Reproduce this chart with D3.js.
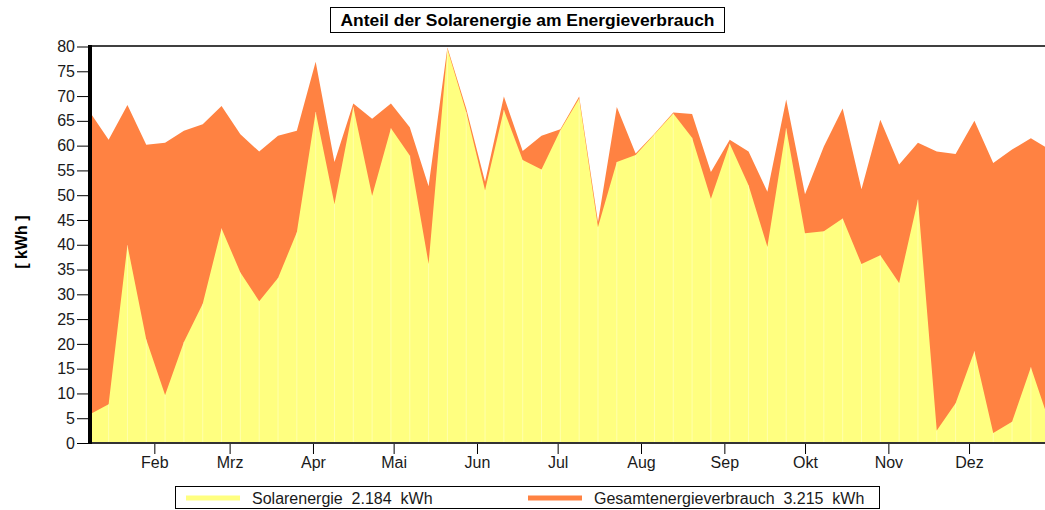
<!DOCTYPE html>
<html>
<head>
<meta charset="utf-8">
<script src="https://cdn.jsdelivr.net/npm/d3@7"></script>
<style>
  body { margin: 0; background: #fff; }
  svg { display: block; font-family: "Liberation Sans", Arial, sans-serif; }
</style>
</head>
<body>
<div id="chart"></div>
<script>
// weekly values, first week ending Jan 8, last Dec 31
var firstWeek = new Date(2013, 0, 8);
var lastWeek = new Date(2013, 11, 31);

var gesamt = [66.8, 61.2, 68.2, 60.2, 60.6, 63.0, 64.3, 68.0, 62.3, 58.8, 62.0, 63.0, 76.9,
    56.7, 68.5, 65.4, 68.5, 63.7, 51.8, 79.8, 67.5, 52.7, 69.9, 58.9, 62.0, 63.3, 69.9,
    44.6, 67.8, 58.4, 62.4, 66.7, 66.4, 54.7, 61.2, 58.8, 50.7, 69.3, 50.2, 59.8, 67.5,
    51.2, 65.2, 56.2, 60.6, 58.8, 58.3, 65.0, 56.5, 59.2, 61.5, 59.2];

var solar = [5.8, 7.8, 39.9, 20.9, 9.7, 20.4, 28.1, 43.3, 34.4, 28.6, 33.3, 42.5, 66.8,
    48.2, 67.8, 49.9, 63.5, 58.0, 36.2, 79.5, 66.8, 51.0, 67.2, 57.1, 55.2, 63.1, 69.5,
    43.6, 56.7, 58.1, 62.3, 66.5, 61.6, 49.3, 60.4, 52.0, 39.6, 63.5, 42.3, 42.7, 45.3,
    36.1, 37.9, 32.3, 49.1, 2.5, 8.0, 18.5, 2.0, 4.3, 15.3, 4.0];

var monthNames = ["Jan", "Feb", "Mrz", "Apr", "Mai", "Jun", "Jul", "Aug", "Sep", "Okt", "Nov", "Dez"];
var yTicks = [0, 5, 10, 15, 20, 25, 30, 35, 40, 45, 50, 55, 60, 65, 70, 75, 80];

var titleText = "Anteil der Solarenergie am Energieverbrauch";
var yLabel = "[ kWh ]";
var legendItems = [
    { text: "Solarenergie  2.184  kWh", color: "#ffff80" },
    { text: "Gesamtenergieverbrauch  3.215  kWh", color: "#ff8242" }
];

var width = 1045, height = 510;
var plotLeft = 90, plotTop = 46, plotBottom = 443;
var fontSize = 16;

var dates = gesamt.map(function(d, i) { return d3.timeDay.offset(firstWeek, 7 * i); });

var x = d3.scaleTime().domain([firstWeek, lastWeek]).range([89.8, 1049.7]);
var y = d3.scaleLinear().domain([0, 80]).range([plotBottom, plotTop + 0.5]);

var svg = d3.select('#chart').append('svg')
    .attr('width', width)
    .attr('height', height);

var clip = svg.append('defs').append('clipPath').attr('id', 'plot');
clip.append('rect').attr('x', plotLeft).attr('y', plotTop)
    .attr('width', width - plotLeft).attr('height', plotBottom - plotTop);

var plot = svg.append('g').attr('clip-path', 'url(#plot)');

var area = d3.area()
    .x(function(d, i) { return x(dates[i]); })
    .y0(y(0))
    .y1(function(d) { return y(d); });

plot.append('path').datum(gesamt).attr('d', area).attr('fill', legendItems[1].color);
plot.append('path').datum(solar).attr('d', area).attr('fill', legendItems[0].color);

// faint seams at each week inside the yellow area
plot.selectAll('line.seam').data(solar).enter().append('line')
    .attr('class', 'seam')
    .attr('x1', function(d, i) { return x(dates[i]); })
    .attr('x2', function(d, i) { return x(dates[i]); })
    .attr('y1', y(0))
    .attr('y2', function(d) { return y(d); })
    .attr('stroke', '#fff')
    .attr('stroke-opacity', 0.35)
    .attr('stroke-width', 1);

// top frame line
svg.append('line').attr('x1', plotLeft).attr('x2', width).attr('y1', plotTop).attr('y2', plotTop)
    .attr('stroke', '#000').attr('stroke-width', 1.5);

// y axis
var yAxis = svg.append('g').attr('transform', 'translate(' + (plotLeft - 1) + ',0)')
    .call(d3.axisLeft(y).tickValues(yTicks).tickSize(12).tickPadding(2));
yAxis.select('.domain').remove();
yAxis.selectAll('.tick line').attr('stroke', '#000');
yAxis.selectAll('.tick text').attr('font-size', fontSize).attr('fill', '#1a1a1a')
    .attr('font-family', '"Liberation Sans", Arial, sans-serif');

// x axis
var xAxis = svg.append('g').attr('transform', 'translate(0,' + plotBottom + ')')
    .call(d3.axisBottom(x)
        .tickValues(d3.timeMonth.range(new Date(2013, 1, 1), new Date(2013, 11, 2)))
        .tickFormat(function(d) { return monthNames[d.getMonth()]; })
        .tickSize(11).tickPadding(3));
xAxis.select('.domain').remove();
xAxis.selectAll('.tick line').attr('stroke', '#000');
xAxis.selectAll('.tick text').attr('font-size', fontSize).attr('fill', '#1a1a1a')
    .attr('font-family', '"Liberation Sans", Arial, sans-serif');

svg.append('line').attr('x1', plotLeft).attr('x2', width).attr('y1', plotBottom).attr('y2', plotBottom)
    .attr('stroke', '#333').attr('stroke-width', 2);
svg.append('line').attr('x1', plotLeft).attr('x2', plotLeft).attr('y1', plotTop - 1).attr('y2', plotBottom + 1)
    .attr('stroke', '#000').attr('stroke-width', 4);

// y label
svg.append('text')
    .attr('transform', 'translate(27,242) rotate(-90)')
    .attr('text-anchor', 'middle')
    .attr('font-size', fontSize).attr('font-weight', 'bold')
    .style('white-space', 'pre')
    .text(yLabel);

// title
svg.append('rect').attr('x', 330.5).attr('y', 7.5).attr('width', 394).attr('height', 25)
    .attr('fill', '#fff').attr('stroke', '#000').attr('stroke-width', 1);
svg.append('text').attr('x', 527.5).attr('y', 25.5)
    .attr('text-anchor', 'middle')
    .attr('font-size', 16).attr('font-weight', 'bold')
    .attr('textLength', 374).attr('lengthAdjust', 'spacingAndGlyphs')
    .text(titleText);

// legend
svg.append('rect').attr('x', 175.5).attr('y', 486.5).attr('width', 704).attr('height', 22)
    .attr('fill', '#fff').attr('stroke', '#000').attr('stroke-width', 1);
var legendX = [186, 528];
var lg = svg.selectAll('g.legend').data(legendItems).enter().append('g')
    .attr('class', 'legend')
    .attr('transform', function(d, i) { return 'translate(' + legendX[i] + ',498)'; });
lg.append('line').attr('x1', 0).attr('x2', 54).attr('stroke', function(d) { return d.color; })
    .attr('stroke-width', 5);
lg.append('text').attr('x', 66).attr('y', 6)
    .attr('font-size', fontSize).attr('fill', '#1a1a1a')
    .style('white-space', 'pre')
    .text(function(d) { return d.text; });
</script>
</body>
</html>
